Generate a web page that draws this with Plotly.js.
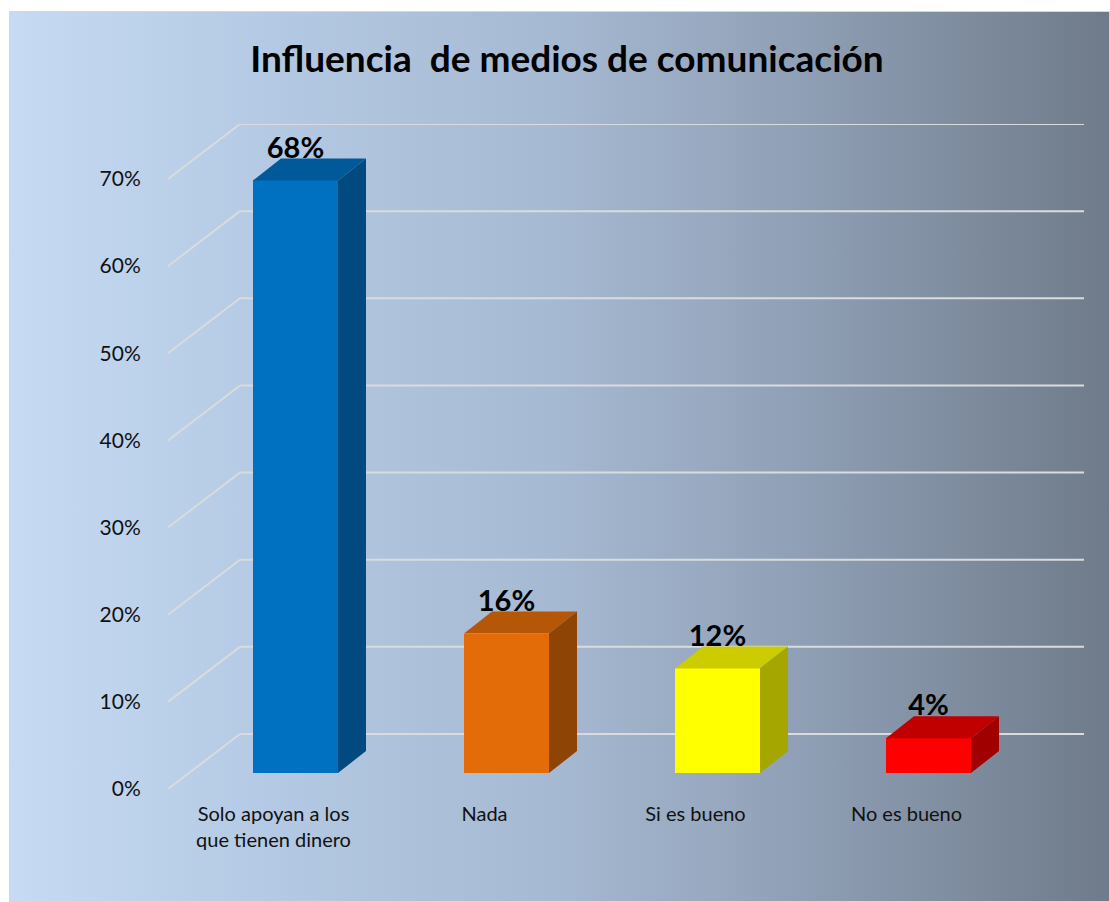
<!DOCTYPE html>
<html><head><meta charset="utf-8">
<script src="https://cdn.plot.ly/plotly-3.0.1.min.js"></script>
<style>
html,body{margin:0;padding:0;background:#fff;width:1110px;height:902px;overflow:hidden}
#bg{position:absolute;left:9px;top:11px;width:1101px;height:891px;box-sizing:border-box;border:1px solid #d4d8dc;
background:linear-gradient(90deg,#c6daf3 0%,#b3c8e2 25%,#a6b9d2 50%,#8f9fb5 72%,#6f7b8a 100%)}
#chart{position:absolute;left:0;top:0;width:1110px;height:902px}
</style></head><body>
<div id="bg"></div><div id="chart"></div>
<script>
const categories=["Solo apoyan a los<br>que tienen dinero","Nada","Si es bueno","No es bueno"];
const values=[68,16,12,4];
const tickValues=[0,10,20,30,40,50,60,70];
const frontColors=["#0070c0","#e36c09","#ffff00","#ff0000"];
const topColors=["#005a9a","#b55707","#cccc00","#c00000"];
const sideColors=["#004a80","#8d4404","#a6a600","#a00000"];
const seriesName="Series1";
const titleText="Influencia\u00a0 de medios de comunicación";

const L=168,R=1084,T=124,B=789,W=1110,H=902,catW=211,unitY=610/70;
const xRange=[-0.5,-0.5+(R-L)/catW], yRange=[0,(B-T)/unitY];
const dx=px=>px/catW, dy=px=>px/unitY;
const wallX=dx(72), wallY=dy(55), barDX=dx(28), barDY=dy(22);
const barOff=dx(22), barW=dx(85), baseY=dy(16), labelY=dy(30);
const barX=values.map((v,i)=>i+barOff);
const gridColor="#d9dbdd", textColor="#111";
const shapes=[];
const seg=(x0,y0,x1,y1,w=2)=>shapes.push({type:"line",xref:"x",yref:"y",x0,y0,x1,y1,layer:"below",line:{color:gridColor,width:w}});
tickValues.forEach(t=>{seg(-0.5,t,-0.5+wallX,t+wallY);seg(-0.5+wallX,t+wallY,xRange[1],t+wallY);});
// data table
const tableTop=-dy(855-B), tableBot=-dy(893-B);
const tableLeft=-0.5-dx(168-64);
for(let i=0;i<=categories.length;i++) seg(i-0.5,0,i-0.5,tableBot);
seg(tableLeft,tableTop,categories.length-0.5,tableTop);
seg(tableLeft,tableBot,categories.length-0.5,tableBot);
seg(tableLeft,tableTop,tableLeft,tableBot);
shapes.push({type:"rect",xref:"x",yref:"y",x0:-0.5-dx(96),x1:-0.5-dx(82),y0:-dy(868-B),y1:-dy(882-B),fillcolor:"#4f81bd",line:{width:0}});

const traces=[{type:"bar",x:barX,y:values,base:values.map(()=>baseY),width:barW,marker:{color:frontColors,line:{width:0}},hoverinfo:"skip",cliponaxis:false}];
values.forEach((v,i)=>{
  const a=barX[i]-barW/2,b=barX[i]+barW/2,y0=baseY,y1=baseY+v;
  traces.push({type:"scatter",mode:"lines",x:[a,b,b+barDX,a+barDX,a],y:[y1,y1,y1+barDY,y1+barDY,y1],fill:"toself",fillcolor:topColors[i],line:{width:0},hoverinfo:"skip"});
  traces.push({type:"scatter",mode:"lines",x:[b,b+barDX,b+barDX,b,b],y:[y0,y0+barDY,y1+barDY,y1,y0],fill:"toself",fillcolor:sideColors[i],line:{width:0},hoverinfo:"skip"});
});
traces.push({type:"scatter",mode:"text",x:barX,y:values.map(v=>baseY+v+labelY),text:values.map(v=>v+"%"),textposition:"middle center",
  textfont:{family:"Lato, sans-serif",size:29,color:"#000",weight:700},hoverinfo:"skip",cliponaxis:false});

const annotations=values.map((v,i)=>({xref:"x",yref:"y",x:i,y:-dy(875-B),text:v+"%",showarrow:false,font:{family:"Lato",size:20,color:textColor},xanchor:"center",yanchor:"middle"}));
annotations.push({xref:"x",yref:"y",x:-0.5-dx(77),y:-dy(874-B),text:seriesName,showarrow:false,xanchor:"left",yanchor:"middle",font:{family:"Lato",size:20,color:textColor}});

const layout={width:W,height:H,paper_bgcolor:"rgba(0,0,0,0)",plot_bgcolor:"rgba(0,0,0,0)",showlegend:false,
  margin:{l:L,r:W-R,t:T,b:H-B,pad:0},
  title:{text:titleText,font:{family:"Lato, sans-serif",size:37,color:"#000",weight:700},x:567/W,xanchor:"center",y:1-59/H,yanchor:"middle"},
  xaxis:{type:"linear",range:xRange,tickmode:"array",tickvals:values.map((v,i)=>i),ticktext:categories,showgrid:false,zeroline:false,showline:false,
    ticks:"outside",ticklen:7,tickcolor:"rgba(0,0,0,0)",tickfont:{family:"Lato",size:20,color:textColor}},
  yaxis:{range:yRange,tickmode:"array",tickvals:tickValues,ticktext:tickValues.map(t=>t+"%"),showgrid:false,zeroline:false,showline:false,
    ticks:"outside",ticklen:22,tickcolor:"rgba(0,0,0,0)",tickfont:{family:"Lato",size:21,color:textColor}},
  shapes,annotations,bargap:0};
Plotly.newPlot("chart",traces,layout,{displayModeBar:false,staticPlot:true});
</script></body></html>
